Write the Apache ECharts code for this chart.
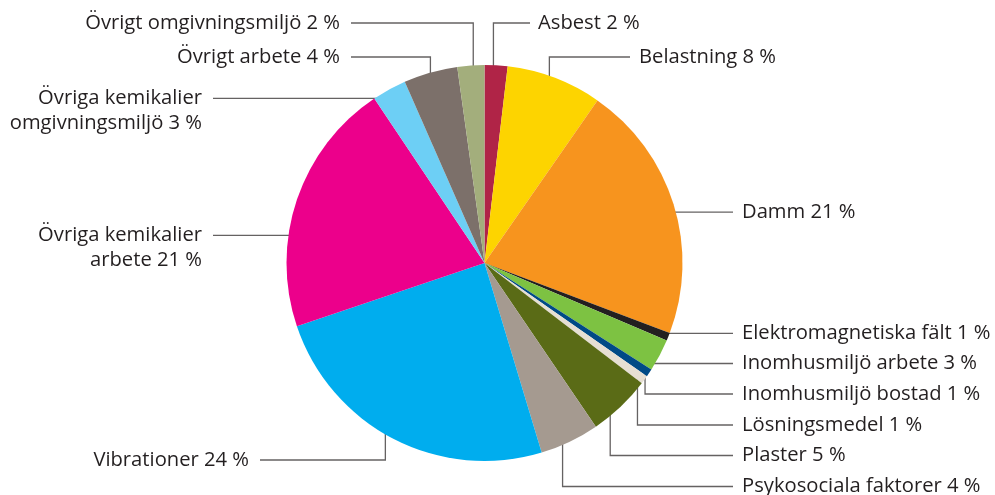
<!DOCTYPE html>
<html><head><meta charset="utf-8">
<script src="https://cdn.jsdelivr.net/npm/echarts@6/dist/echarts.min.js"></script>
<style>html,body{margin:0;padding:0;background:#fff}#c{width:995px;height:495px}</style>
</head><body><div id="c"></div>
<script>
// Categories in clockwise order from 12 o'clock
const categories = ['Asbest','Belastning','Damm','Elektromagnetiska fält','Inomhusmiljö arbete','Inomhusmiljö bostad','Lösningsmedel','Plaster','Psykosociala faktorer','Vibrationer','Övriga kemikalier arbete','Övriga kemikalier omgivningsmiljö','Övrigt arbete','Övrigt omgivningsmiljö'];
// Slice shares (percent)
const shares = [1.87, 7.8, 21.1, 0.65, 2.65, 0.65, 0.7, 5.1, 4.85, 24.5, 20.8, 2.8, 4.4, 2.2];
// Label texts as printed
const labelTexts = ['Asbest 2 %','Belastning 8 %','Damm 21 %','Elektromagnetiska fält 1 %','Inomhusmiljö arbete 3 %','Inomhusmiljö bostad 1 %','Lösningsmedel 1 %','Plaster 5 %','Psykosociala faktorer 4 %','Vibrationer 24 %','Övriga kemikalier\narbete 21 %','Övriga kemikalier\nomgivningsmiljö 3 %','Övrigt arbete 4 %','Övrigt omgivningsmiljö 2 %'];
const colors = ['#b02447','#fdd400','#f7941e','#231f20','#7dc242','#004a86','#e6dfd3','#5a6b16','#a59a90','#00adee','#ec008b','#6dcff5','#7c706a','#a3ae7c'];

// ---- layout (positions / styles only) ----
const CX = 484.5, CY = 263, R = 198, LH = 25;
// t: position within slice angle, rf: radius fraction of anchor; y: label line y (null = horizontal from anchor)
const lay = [
  {t:0.40, rf:0.96, side:'R', textX:538, lineX:530, y:23},
  {t:0.53, rf:0.89, side:'R', textX:639, lineX:630, y:57},
  {t:0.46, rf:0.74, side:'R', textX:742, lineX:733, y:null},
  {t:0.15, rf:0.99, side:'R', textX:742, lineX:733, y:null},
  {t:0.41, rf:0.93, side:'R', textX:742, lineX:733, y:363.5},
  {t:0.50, rf:0.975, side:'R', textX:742, lineX:733, y:394},
  {t:0.60, rf:0.96, side:'R', textX:742, lineX:733, y:425},
  {t:0.55, rf:0.94, side:'R', textX:742, lineX:733, y:455.5},
  {t:0.49, rf:0.91, side:'R', textX:742, lineX:733, y:486.5},
  {t:0.56, rf:0.93, side:'L', textX:249, lineX:260, y:460},
  {t:0.37, rf:0.89, side:'L', textX:202, lineX:213, y:null},
  {t:0.60, rf:0.94, side:'L', textX:202, lineX:213, y:null},
  {t:0.45, rf:0.955, side:'L', textX:340, lineX:351, y:57},
  {t:0.58, rf:0.98, side:'L', textX:340, lineX:351, y:23}
];

const total = shares.reduce((a,b)=>a+b,0);
const cum = [0];
shares.forEach((v,i)=>cum.push(cum[i]+v/total));

const chart = echarts.init(document.getElementById('c'), null, {renderer:'canvas'});
chart.setOption({
  animation:false,
  backgroundColor:'#fff',
  series:[{
    type:'pie',
    center:[CX, CY],
    radius:R,
    startAngle:90,
    clockwise:true,
    avoidLabelOverlap:false,
    silent:true,
    itemStyle:{borderWidth:0},
    label:{
      show:true,
      position:'outside',
      formatter:(p)=>labelTexts[p.dataIndex],
      color:'#231f20',
      fontFamily:'Open Sans',
      fontSize:20.2,
      lineHeight:LH
    },
    labelLine:{show:true, smooth:false, lineStyle:{color:'rgba(35,31,32,0.7)', width:1.3}},
    labelLayout:function(params){
      const i = params.dataIndex;
      const L = lay[i];
      const a = (cum[i] + L.t*(cum[i+1]-cum[i])) * 2*Math.PI;
      const r = L.rf*R;
      const ax = CX + r*Math.sin(a), ay = CY - r*Math.cos(a);
      let pts, ly;
      if (L.y == null){ ly = ay; pts = [[ax,ay],[(ax+L.lineX)/2,ay],[L.lineX,ay]]; }
      else { ly = L.y; pts = [[ax,ay],[ax,ly],[L.lineX,ly]]; }
      const two = labelTexts[i].indexOf('\n') >= 0;
      return {x:L.textX, y: two ? ly - LH/2 : ly, align: L.side==='R'?'left':'right', verticalAlign: two?'top':'middle', labelLinePoints: pts};
    },
    data: categories.map((c,i)=>({name:c, value:shares[i], itemStyle:{color:colors[i]}}))
  }]
});
</script>
</body></html>
